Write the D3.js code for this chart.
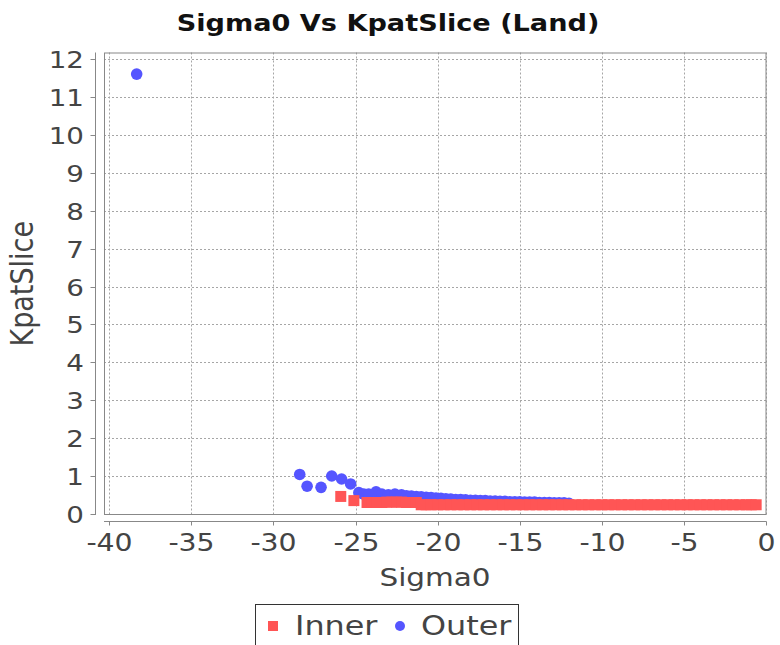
<!DOCTYPE html>
<html>
<head>
<meta charset="utf-8">
<script src="https://cdn.jsdelivr.net/npm/d3@7"></script>
<style>
  html, body { margin: 0; padding: 0; background: #fff; }
  svg { display: block; font-family: "DejaVu Sans", sans-serif; }
</style>
</head>
<body>
<svg id="chart" width="780" height="645"></svg>
<script>
// Sigma0 vs KpatSlice scatter (JFreeChart look, image stretched a bit wide)

const xTicks = [-40, -35, -30, -25, -20, -15, -10, -5, 0];
const yTicks = [0, 1, 2, 3, 4, 5, 6, 7, 8, 9, 10, 11, 12];

// Inner series (red squares)
const innerX = [-25.9, -25.1, -24.3, -24.0, -23.7, -23.4, -23.1, -22.8, -22.5, -22.2,
  -21.9, -21.6, -21.3, -21.0, -20.7, -20.4, -20.0, -19.6, -19.2, -18.8,
  -18.4, -18.0, -17.6, -17.2, -16.8, -16.4, -16.0, -15.6, -15.2, -14.8,
  -14.4, -14.0, -13.6, -13.2, -12.8, -12.4, -12.0, -11.6, -11.2, -10.8,
  -10.4, -10.0, -9.6, -9.2, -8.8, -8.4, -8.0, -7.6, -7.2, -6.8,
  -6.4, -6.0, -5.6, -5.2, -4.8, -4.4, -4.0, -3.6, -3.2, -2.8,
  -2.4, -2.0, -1.6, -1.2, -0.9, -0.6];
const innerY = [0.46, 0.35, 0.30, 0.30, 0.30, 0.30, 0.31, 0.31, 0.31, 0.31,
  0.30, 0.30, 0.30, 0.24, 0.24, 0.24, 0.24, 0.24, 0.24, 0.24,
  0.24, 0.24, 0.24, 0.24, 0.24, 0.24, 0.24, 0.24, 0.24, 0.24,
  0.24, 0.24, 0.24, 0.24, 0.24, 0.24, 0.24, 0.24, 0.24, 0.24,
  0.24, 0.24, 0.24, 0.24, 0.24, 0.24, 0.24, 0.24, 0.24, 0.24,
  0.24, 0.24, 0.24, 0.24, 0.24, 0.24, 0.24, 0.24, 0.24, 0.24,
  0.24, 0.24, 0.24, 0.24, 0.24, 0.24];

// Outer series (blue circles)
const outerX = [-38.33, -28.4, -27.95, -27.1, -26.45, -25.85, -25.3, -24.8, -24.5, -24.2,
  -23.75, -23.4, -23.0, -22.6, -22.2, -21.9, -21.6, -21.3, -21.0, -20.7,
  -20.4, -20.1, -19.8, -19.5, -19.2, -18.9, -18.6, -18.3, -18.0, -17.7,
  -17.4, -17.1, -16.8, -16.5, -16.2, -15.9, -15.6, -15.3, -15.0, -14.7,
  -14.4, -14.1, -13.8, -13.5, -13.2, -12.9, -12.6, -12.3, -12.0];
const outerY = [11.61, 1.04, 0.73, 0.70, 1.00, 0.92, 0.79, 0.56, 0.52, 0.52,
  0.58, 0.52, 0.50, 0.52, 0.50, 0.48, 0.47, 0.46, 0.45, 0.44,
  0.43, 0.42, 0.41, 0.40, 0.39, 0.38, 0.38, 0.37, 0.36, 0.36,
  0.35, 0.35, 0.34, 0.34, 0.33, 0.33, 0.32, 0.32, 0.32, 0.31,
  0.31, 0.31, 0.30, 0.30, 0.30, 0.29, 0.29, 0.29, 0.28];

const RED = '#ff5555';
const BLUE = '#5555ff';
const STRETCH = 1.18;   // horizontal stretch of text in the reference
const TEXT = '#444';

const svg = d3.select('#chart');

const plot = { left: 104, right: 766.5, top: 52.5, bottom: 515 };

const x = d3.scaleLinear().domain([-40.32, 0.03]).range([plot.left, plot.right]);
const y = d3.scaleLinear().domain([-0.03, 12.18]).range([plot.bottom, plot.top]);

// stretched text helper
function stext(g, tx, ty, str, size, anchor, weight, fill) {
  return g.append('text')
    .attr('transform', `translate(${tx},${ty}) scale(${STRETCH},1)`)
    .attr('text-anchor', anchor)
    .attr('font-size', size)
    .attr('font-weight', weight || 'normal')
    .attr('fill', fill || TEXT)
    .text(str);
}

// plot background
svg.append('rect')
  .attr('x', plot.left).attr('y', plot.top)
  .attr('width', plot.right - plot.left).attr('height', plot.bottom - plot.top)
  .attr('fill', '#fff');

// gridlines
const grid = svg.append('g')
  .attr('stroke', '#a6a6a6')
  .attr('stroke-width', 1)
  .attr('stroke-dasharray', '2,2');
grid.selectAll('.vg').data(xTicks).join('line')
  .attr('x1', d => Math.round(x(d)) + 0.5).attr('x2', d => Math.round(x(d)) + 0.5)
  .attr('y1', plot.top).attr('y2', plot.bottom);
grid.selectAll('.hg').data(yTicks).join('line')
  .attr('x1', plot.left).attr('x2', plot.right)
  .attr('y1', d => Math.round(y(d)) + 0.5).attr('y2', d => Math.round(y(d)) + 0.5);

// points: outer first so inner sits on top
svg.append('clipPath').attr('id', 'clip')
  .append('rect')
  .attr('x', plot.left).attr('y', plot.top)
  .attr('width', plot.right - plot.left).attr('height', plot.bottom - plot.top);

const marks = svg.append('g').attr('clip-path', 'url(#clip)');

const outer = outerX.map((v, i) => ({ x: v, y: outerY[i] }));
const inner = innerX.map((v, i) => ({ x: v, y: innerY[i] }));

marks.selectAll('.outer').data(outer).join('circle')
  .attr('cx', d => x(d.x))
  .attr('cy', d => y(d.y))
  .attr('r', 5.8)
  .attr('fill', BLUE);

const sq = 11;
marks.selectAll('.inner').data(inner).join('rect')
  .attr('x', d => x(d.x) - sq / 2)
  .attr('y', d => y(d.y) - sq / 2)
  .attr('width', sq)
  .attr('height', sq)
  .attr('fill', RED);

// plot outline
svg.append('rect')
  .attr('x', plot.left + 0.5).attr('y', plot.top + 0.5)
  .attr('width', plot.right - plot.left - 1).attr('height', plot.bottom - plot.top - 1)
  .attr('fill', 'none')
  .attr('stroke', '#888');

// y axis
const yAxisX = 95.5;
const yAxis = svg.append('g');
yAxis.append('line')
  .attr('x1', yAxisX).attr('x2', yAxisX)
  .attr('y1', plot.top).attr('y2', plot.bottom)
  .attr('stroke', '#888');
yTicks.forEach(t => {
  const ty = Math.round(y(t)) + 0.5;
  yAxis.append('line')
    .attr('x1', yAxisX - 5).attr('x2', yAxisX)
    .attr('y1', ty).attr('y2', ty)
    .attr('stroke', '#888');
  stext(yAxis, 84, ty + 8.5, String(t), 23.5, 'end');
});

// x axis
const xAxisY = 521.5;
const xAxis = svg.append('g');
xAxis.append('line')
  .attr('x1', plot.left).attr('x2', plot.right)
  .attr('y1', xAxisY).attr('y2', xAxisY)
  .attr('stroke', '#888');
xTicks.forEach(t => {
  const tx = Math.round(x(t)) + 0.5;
  xAxis.append('line')
    .attr('x1', tx).attr('x2', tx)
    .attr('y1', xAxisY).attr('y2', xAxisY + 4)
    .attr('stroke', '#888');
  stext(xAxis, tx, 551, String(t), 24, 'middle');
});

// title and axis labels
stext(svg, 388, 31, 'Sigma0 Vs KpatSlice (Land)', 23, 'middle', 'bold', '#111');
stext(svg, 435, 586, 'Sigma0', 25, 'middle');

svg.append('text')
  .attr('transform', `translate(33,${(plot.top + plot.bottom) / 2}) rotate(-90) scale(1,${STRETCH})`)
  .attr('text-anchor', 'middle')
  .attr('font-size', 27)
  .attr('fill', TEXT)
  .text('KpatSlice');

// legend
const legend = svg.append('g');
legend.append('rect')
  .attr('x', 255.5).attr('y', 604.5)
  .attr('width', 263).attr('height', 60)
  .attr('fill', '#fff')
  .attr('stroke', '#333');
legend.append('rect')
  .attr('x', 268).attr('y', 621)
  .attr('width', 10).attr('height', 10)
  .attr('fill', RED);
stext(legend, 295, 635, 'Inner', 27, 'start');
legend.append('circle')
  .attr('cx', 400).attr('cy', 626)
  .attr('r', 5)
  .attr('fill', BLUE);
stext(legend, 421, 635, 'Outer', 27, 'start');
</script>
</body>
</html>
